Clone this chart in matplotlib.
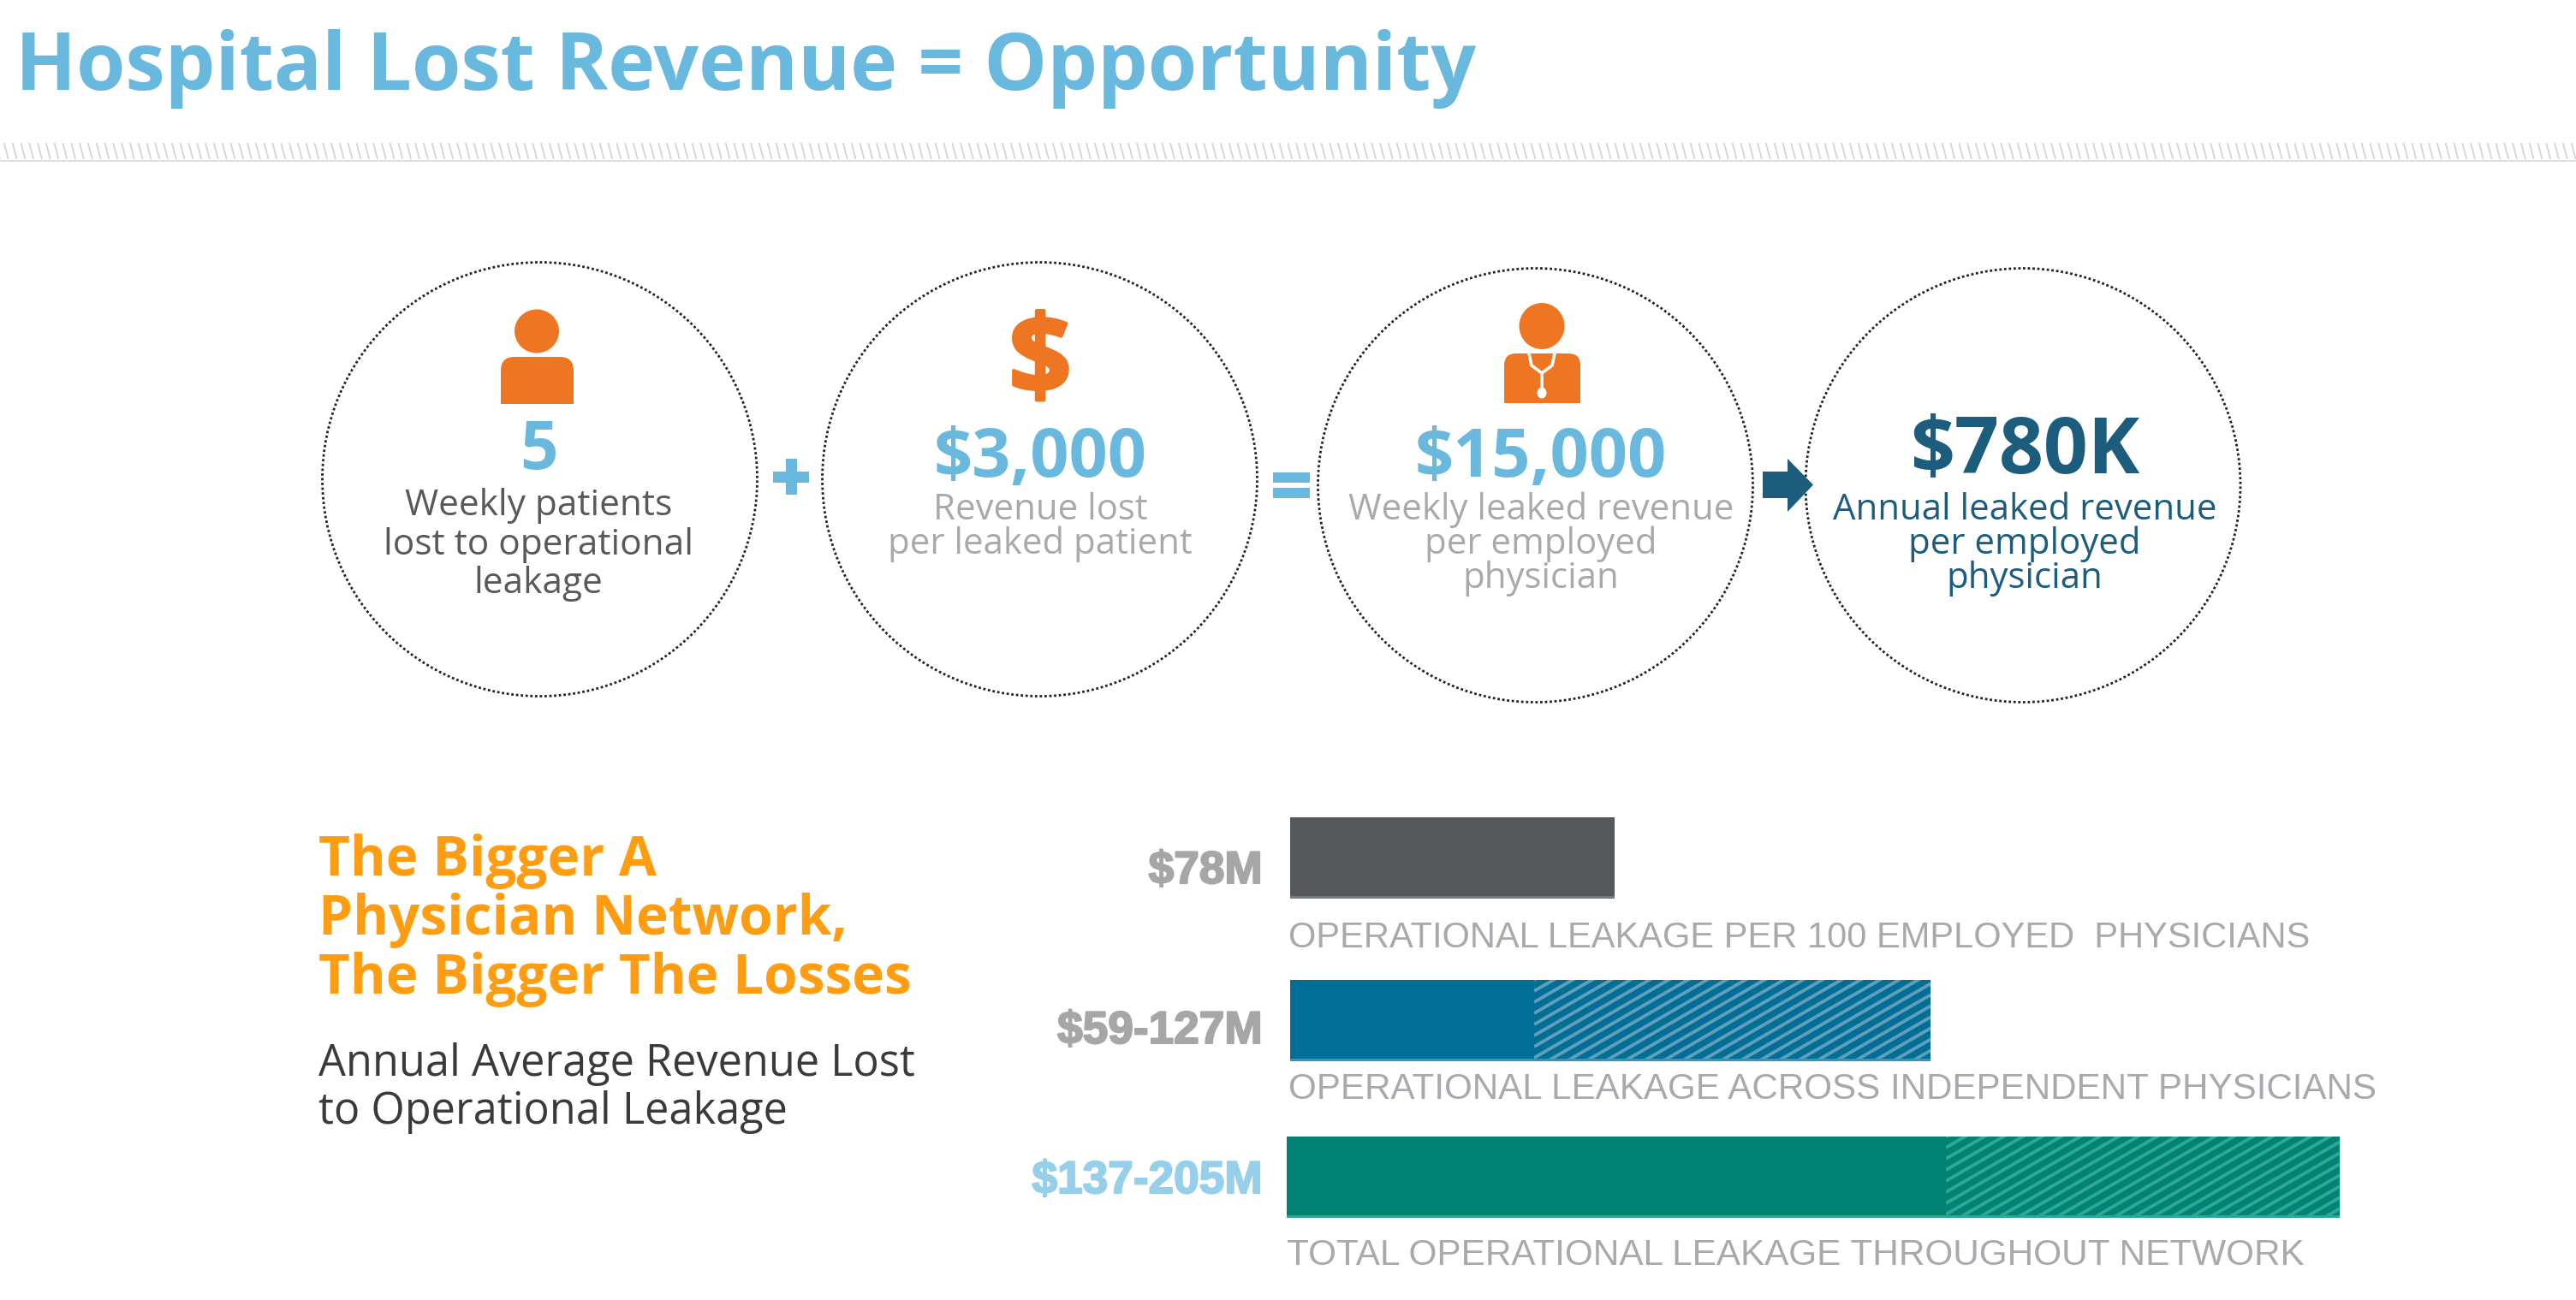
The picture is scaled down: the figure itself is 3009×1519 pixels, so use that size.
# -*- coding: utf-8 -*-
import numpy as np
import matplotlib
matplotlib.use('Agg')
import matplotlib.pyplot as plt
import matplotlib.patheffects as pe
from matplotlib.patches import Ellipse, Rectangle, Polygon, PathPatch
from matplotlib.path import Path
from matplotlib.collections import LineCollection

W, H = 3009, 1519

title = 'Hospital Lost Revenue = Opportunity'

circle_values = ['5', '$3,000', '$15,000', '$780K']
circle_notes = [['Weekly patients', 'lost to operational', 'leakage'],
                ['Revenue lost', 'per leaked patient'],
                ['Weekly leaked revenue', 'per employed', 'physician'],
                ['Annual leaked revenue', 'per employed', 'physician']]

heading = ['The Bigger A', 'Physician Network,', 'The Bigger The Losses']
subheading = ['Annual Average Revenue Lost', 'to Operational Leakage']

bar_values = ['$78M', '$59-127M', '$137-205M']
bar_labels = ['OPERATIONAL LEAKAGE PER 100 EMPLOYED  PHYSICIANS',
              'OPERATIONAL LEAKAGE ACROSS INDEPENDENT PHYSICIANS',
              'TOTAL OPERATIONAL LEAKAGE THROUGHOUT NETWORK']
# bar lengths as drawn in the picture (they do not follow the labels exactly)
bar_solid = [379, 285, 770]
bar_total = [379, 748, 1230]

BLUE = '#69b8de'
DARK = '#1c5c7c'
ORANGE = '#ee7623'
GREY = '#a7a9ac'
TEXT_GREY = '#58595b'

fig = plt.figure(figsize=(W/100, H/100), dpi=100)
ax = fig.add_axes([0, 0, 1, 1])
ax.set_xlim(0, W)
ax.set_ylim(H, 0)
ax.axis('off')

OS = 'Open Sans'
LS = 'Liberation Sans'

#title and the hatched rule under it
ax.text(18, 105, title, family=OS, weight='bold', size=66.9, color=BLUE, va='baseline')
segs = [[(x, 167), (x+5, 186)] for x in np.arange(-5, W, 9.8)]
ax.add_collection(LineCollection(segs, colors='#d4d4d4', linewidths=1.3))
ax.plot([0, W], [188, 188], color='#d9d9d9', lw=1.2)

#dotted circles
circ_x = [630.5, 1214.5, 1793.5, 2363]
circ_y = [560, 560, 567, 567]
for cx, cy in zip(circ_x, circ_y):
    ax.add_patch(Ellipse((cx, cy), 508, 507, fill=False, ec='#222222', lw=2.0, ls=(0, (1, 1))))


def body(x0, x1, y0, y1, r):
    verts = [(x0, y1), (x0, y0+r), (x0, y0), (x0+r, y0), (x1-r, y0), (x1, y0), (x1, y0+r), (x1, y1), (x0, y1)]
    codes = [Path.MOVETO, Path.LINETO, Path.CURVE3, Path.CURVE3, Path.LINETO, Path.CURVE3, Path.CURVE3, Path.LINETO, Path.CLOSEPOLY]
    return PathPatch(Path(verts, codes), fc=ORANGE, ec='none')


#person icon
ax.add_patch(Ellipse((627, 387), 52, 51, fc=ORANGE, ec='none'))
ax.add_patch(body(585, 670, 417, 472, 16))

#dollar icon
ax.text(1215, 460, '$', family=OS, weight='bold', size=92, color=ORANGE, ha='center', va='baseline',
        path_effects=[pe.withStroke(linewidth=3, foreground=ORANGE)])

#doctor icon
ax.add_patch(Ellipse((1801, 381), 53, 54, fc=ORANGE, ec='none'))
ax.add_patch(body(1757, 1846, 413, 471, 14))
ax.plot([1786, 1789, 1801, 1813, 1816], [413, 427, 436, 427, 413], color='white', lw=2.6)
ax.plot([1801, 1801], [436, 455], color='white', lw=2.6)
ax.add_patch(Ellipse((1801, 459), 11, 13, fc='white', ec='none'))

#big numbers in the circles
num_x = [629, 1215, 1800, 2365]
num_y = [548, 557, 557, 553]
num_size = [56, 57, 57, 65.5]
num_col = [BLUE, BLUE, BLUE, DARK]
for i in range(4):
    ax.text(num_x[i], num_y[i], circle_values[i], family=OS, weight='bold', size=num_size[i],
            color=num_col[i], ha='center', va='baseline')

#notes under the numbers
note_x = [629, 1215, 1800, 2365]
note_y = [[602, 648, 693], [607, 647], [607, 647, 687], [607, 647, 687]]
note_size = [30.5, 30.2, 30.2, 30.2]
note_col = [TEXT_GREY, GREY, GREY, DARK]
for i in range(4):
    for line, y in zip(circle_notes[i], note_y[i]):
        ax.text(note_x[i], y, line, family=OS, size=note_size[i], color=note_col[i], ha='center', va='baseline')

#operators
ax.add_patch(Rectangle((903, 551), 42, 13, fc=BLUE, ec='none'))
ax.add_patch(Rectangle((918, 536), 13, 42, fc=BLUE, ec='none'))
ax.add_patch(Rectangle((1487, 552), 43, 12, fc=BLUE, ec='none'))
ax.add_patch(Rectangle((1487, 570), 43, 12, fc=BLUE, ec='none'))
ax.add_patch(Polygon([(2059, 551), (2088, 551), (2088, 536), (2118, 566.5), (2088, 598), (2088, 582), (2059, 582)],
                     fc=DARK, ec='none'))

#left text block
for line, y in zip(heading, [1023, 1092, 1161]):
    ax.text(372, y, line, family=OS, weight='bold', size=46, color='#fe9d12', va='baseline')
for line, y in zip(subheading, [1257, 1313]):
    ax.text(372, y, line, family=OS, size=36.4, color='#3a3a3c', va='baseline')

#bars
bar_left = [1507, 1507, 1503]
bar_top = [955, 1145, 1328]
bar_h = 95
bar_col = ['#55595c', '#006e97', '#008374']
bottom_col = ['#77797c', '#3a93b0', '#2fa594']
hatch_col = ['#55595c', '#5f9fb8', '#2ea895']
val_y = [1032, 1219, 1394]
val_col = ['#a6a6a6', '#a6a6a6', '#95cfe9']
lab_x = [1505, 1505, 1503]
lab_y = [1107, 1284, 1478]
lab_size = [30, 30.3, 30.4]
for i in range(3):
    y = bar_top[i]+bar_h/2
    ax.barh(y, bar_total[i], height=bar_h, left=bar_left[i], color=bar_col[i], lw=0)
    ax.barh(bar_top[i]+bar_h-1.5, bar_total[i], height=3, left=bar_left[i], color=bottom_col[i], lw=0)
    if bar_total[i] > bar_solid[i]:
        b = ax.barh(y, bar_total[i]-bar_solid[i], height=bar_h-3, left=bar_left[i]+bar_solid[i],
                    color=bar_col[i], lw=0)[0]
        b.set_y(bar_top[i])
        x0 = bar_left[i]+bar_solid[i]
        x1 = bar_left[i]+bar_total[i]
        segs = [[(x0, s), (x1, s-0.58*(x1-x0))] for s in np.arange(bar_top[i], bar_top[i]+bar_h+0.58*(x1-x0)+13, 13)]
        lc = LineCollection(segs, colors=hatch_col[i], linewidths=2.8)
        ax.add_collection(lc)
        lc.set_clip_path(b)
    ax.text(1475, val_y[i], bar_values[i], family=LS, weight='bold', size=38.3, color=val_col[i],
            ha='right', va='baseline', path_effects=[pe.withStroke(linewidth=1.5, foreground=val_col[i])])
    ax.text(lab_x[i], lab_y[i], bar_labels[i], family=LS, size=lab_size[i], color=GREY, va='baseline')

plt.savefig('out.png', dpi=100, facecolor='white')
